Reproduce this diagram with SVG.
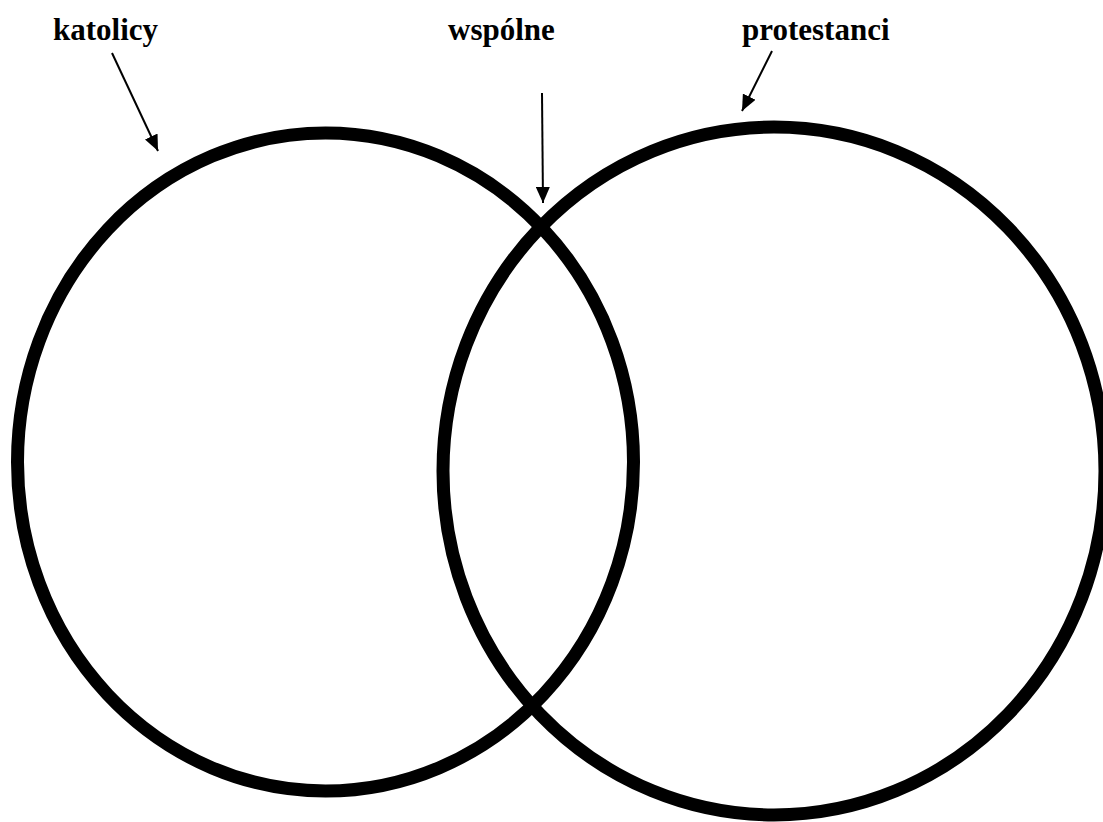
<svg xmlns="http://www.w3.org/2000/svg" width="1103" height="822" viewBox="0 0 1103 822">
<style>
.lbl{font-family:"Liberation Serif","Times New Roman",serif;font-weight:bold;font-size:31px;fill:#000}
.ring{fill:none;stroke:#000;stroke-width:13}
.conn{stroke:#000;stroke-width:2;fill:none}
</style>
<defs>
<marker id="ah" markerUnits="userSpaceOnUse" markerWidth="18" markerHeight="14" refX="16" refY="7" orient="auto">
<path d="M0,0 L16,7 L0,14 Z" fill="#000"/>
</marker>
</defs>
<rect width="1103" height="822" fill="#fff"/>
<g id="katolicy">
<ellipse class="ring" cx="325.5" cy="462" rx="308" ry="329"/>
<text class="lbl" x="53" y="40">katolicy</text>
</g>
<g id="protestanci">
<ellipse class="ring" cx="774" cy="471" rx="331" ry="344"/>
<text class="lbl" x="742" y="40">protestanci</text>
</g>
<g id="wspolne">
<text class="lbl" x="448" y="40">wspólne</text>
</g>
<g id="connectors">
<line class="conn" x1="112" y1="53" x2="158" y2="151" marker-end="url(#ah)"/>
<line class="conn" x1="542" y1="93" x2="543" y2="203" marker-end="url(#ah)"/>
<line class="conn" x1="772" y1="51" x2="742" y2="111" marker-end="url(#ah)"/>
</g>
</svg>
